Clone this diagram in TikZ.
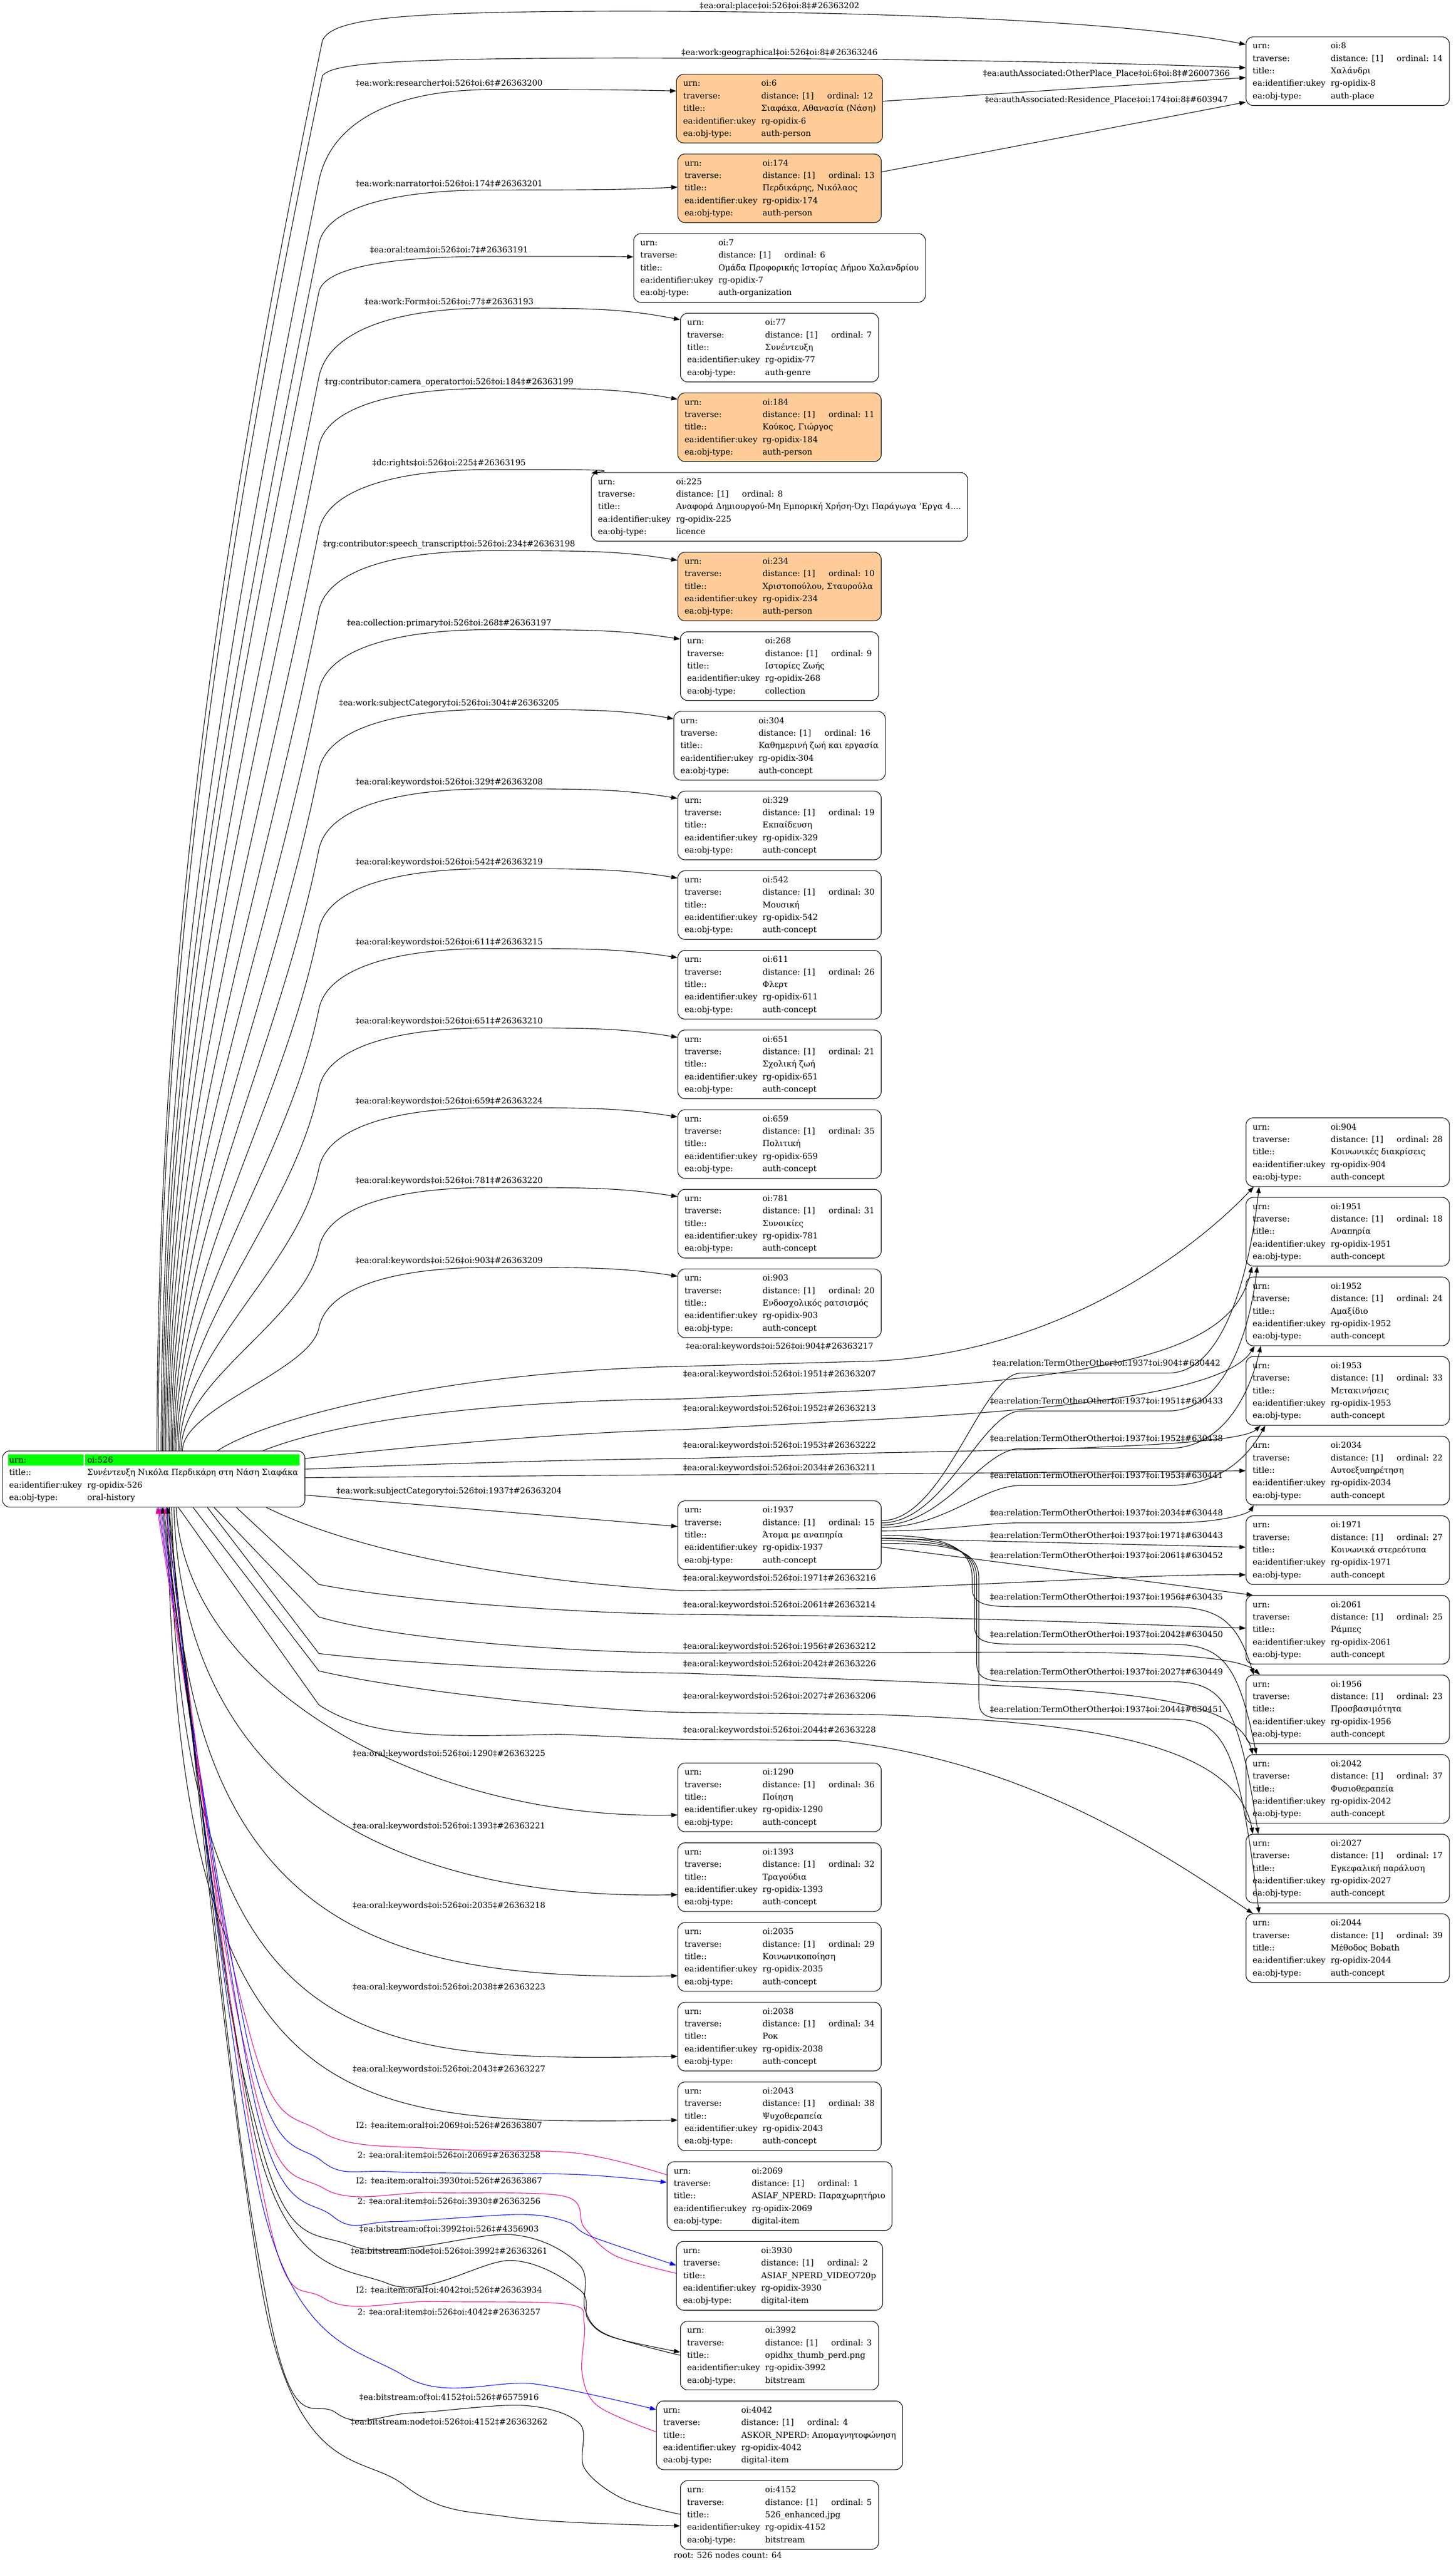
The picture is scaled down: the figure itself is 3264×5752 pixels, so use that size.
\documentclass[tikz,border=0pt]{standalone}
\usepackage{fontspec}
\setmainfont{DejaVu Serif}
\usetikzlibrary{arrows.meta,calc,backgrounds}

\definecolor{peach}{RGB}{255,204,153}

% rows of one record box
\newcommand{\oirows}[4]{%
  \begin{tabular}{@{}p{87.5pt}@{}l@{}}
    urn: & oi:#1\\
    traverse: & \makebox[74pt][l]{distance: [1]}ordinal: #2\hspace{7pt}\\
    title:: & #3\\
    ea:identifier:ukey & rg-opidix-#1\\
    ea:obj-type: & #4
  \end{tabular}}
% text of one edge label
\newcommand{\edgetext}[4]{‡#1‡oi:#2‡oi:#3‡\##4}

\begin{document}
\begin{tikzpicture}[x=0.5pt,y=-0.5pt]
   \tikzstyle{every node}=[font=\fontsize{9.15}{14}\selectfont]
   \tikzstyle{oibox}=[draw, rounded corners=8pt, line width=0.65pt, inner xsep=7.5pt, inner ysep=3.5pt, anchor=north]
   \tikzstyle{elabel}=[inner sep=0pt]
   \tikzstyle{edge}=[-{Triangle[length=7pt,width=5pt]}, line width=0.65pt]
   \tikzstyle{back}=[{Triangle[length=7pt,width=5pt]}-, line width=0.65pt]
   \tikzstyle{blueedge}=[edge, draw=blue]
   \tikzstyle{magback}=[back, draw=magenta]

\useasboundingbox (0,0) rectangle (3264,5752);

% root record
\node[oibox, anchor=north west] (root) at (5,3253) {\begin{tabular}{@{}p{87.5pt}@{}l@{}}
    urn: & oi:526\\
    title:: & Συνέντευξη Νικόλα Περδικάρη στη Νάση Σιαφάκα\\
    ea:identifier:ukey & rg-opidix-526\\
    ea:obj-type: & oral-history
  \end{tabular}};
\begin{scope}[on background layer]
  \fill[green] ($(root.north west)+(13,8)$) rectangle ($(root.north west)+(182,34)$);
  \fill[green] ($(root.north west)+(186,8)$) rectangle ($(root.north east)+(-12,34)$);
\end{scope}

% middle column, upper part
\foreach \nm/\od/\ti/\ty/\fc [count=\ix from 0] in {
    6/12/{Σιαφάκα, Αθανασία (Νάση)}/auth-person/peach,
    174/13/{Περδικάρης, Νικόλαος}/auth-person/peach,
    7/6/Ομάδα Προφορικής Ιστορίας Δήμου Χαλανδρίου/auth-organization/white,
    77/7/Συνέντευξη/auth-genre/white,
    184/11/{Κούκος, Γιώργος}/auth-person/peach,
    225/8/{Αναφορά Δημιουργού-Μη Εμπορική Χρήση-Όχι Παράγωγα 'Εργα 4....}/licence/white,
    234/10/{Χριστοπούλου, Σταυρούλα}/auth-person/peach,
    268/9/Ιστορίες Ζωής/collection/white,
    304/16/Καθημερινή ζωή και εργασία/auth-concept/white,
    329/19/Εκπαίδευση/auth-concept/white,
    542/30/Μουσική/auth-concept/white,
    611/26/Φλερτ/auth-concept/white,
    651/21/Σχολική ζωή/auth-concept/white,
    659/35/Πολιτική/auth-concept/white,
    781/31/Συνοικίες/auth-concept/white,
    903/20/Ενδοσχολικός ρατσισμός/auth-concept/white}
  \node[oibox, fill=\fc] (n\nm) at (1748,166+178.6*\ix) {\oirows{\nm}{\od}{\ti}{\ty}};

\node[oibox] (n1937) at (1748,3365) {\oirows{1937}{15}{Άτομα με αναπηρία}{auth-concept}};

% middle column, lower part
\foreach \nm/\od/\ti/\ty [count=\ix from 0] in {
    1290/36/Ποίηση/auth-concept,
    1393/32/Τραγούδια/auth-concept,
    2035/29/Κοινωνικοποίηση/auth-concept,
    2038/34/Ροκ/auth-concept,
    2043/38/Ψυχοθεραπεία/auth-concept,
    2069/1/{ASIAF\_NPERD: Παραχωρητήριο}/digital-item,
    3930/2/ASIAF\_NPERD\_VIDEO720p/digital-item,
    3992/3/opidhx\_thumb\_perd.png/bitstream,
    4042/4/{ASKOR\_NPERD: Απομαγνητοφώνηση}/digital-item,
    4152/5/526\_enhanced.jpg/bitstream}
  \node[oibox] (n\nm) at (1748,3953+178.8*\ix) {\oirows{\nm}{\od}{\ti}{\ty}};

% right column
\node[oibox] (n8) at (3022,82) {\oirows{8}{14}{Χαλάνδρι}{auth-place}};
\foreach \nm/\od/\ti [count=\ix from 0] in {
    904/28/Κοινωνικές διακρίσεις, 1951/18/Αναπηρία, 1952/24/Αμαξίδιο,
    1953/33/Μετακινήσεις, 2034/22/Αυτοεξυπηρέτηση, 1971/27/Κοινωνικά στερεότυπα,
    2061/25/Ράμπες, 1956/23/Προσβασιμότητα, 2042/37/Φυσιοθεραπεία,
    2027/17/Εγκεφαλική παράλυση, 2044/39/Μέθοδος Bobath}
  \node[oibox] (n\nm) at (3022,2506+178.5*\ix) {\oirows{\nm}{\od}{\ti}{auth-concept}};

\node (foot) at (1632,5730) {root: 526 nodes count: 64};

% root to the upper middle records
\foreach \nm/\ly/\ad/\kn/\pr/\id [count=\ix] in {
    6/187/38/406/ea:work:researcher/26363200,
    174/412/75/547/ea:work:narrator/26363201,
    7/561/53/655/ea:oral:team/26363191,
    77/677/15/846/ea:work:Form/26363193,
    184/857/15/1000/rg:contributor:camera\_operator/26363199,
    225/1039/2/1190/dc:rights/26363195,
    234/1221/19/1370/rg:contributor:speech\_transcript/26363198,
    268/1398/17/1548/ea:collection:primary/26363197,
    304/1577/17/1727/ea:work:subjectCategory/26363205,
    329/1755/17/1905/ea:oral:keywords/26363208,
    542/1934/17/2084/ea:oral:keywords/26363219,
    611/2113/17/2263/ea:oral:keywords/26363215,
    651/2291/17/2441/ea:oral:keywords/26363210,
    659/2470/17/2620/ea:oral:keywords/26363224,
    781/2649/17/2799/ea:oral:keywords/26363220,
    903/2828/17/2978/ea:oral:keywords/26363209}
{
  \pgfmathsetmacro\sx{358+3.2*\ix}
  \pgfmathsetmacro\ka{3253-0.35*(3253-\kn)}
  \pgfmathsetmacro\kb{\kn+0.35*(3253-\kn)}
  \pgfmathsetmacro\kc{715-0.07*(3253-\kn)}
  \pgfmathsetmacro\lv{0.6*(\kn-\ly)}
  \node[elabel] (l\nm) at (1007,\ly) {\edgetext{\pr}{526}{\nm}{\id}};
  \draw[edge] ($(root.north west)+(\sx-5,0)$) .. controls (\sx,\ka) and (\kc,\kb) .. (715,\kn)
    .. controls (715+0.2*\lv,\kn-\lv) and (880,\ly+14) .. (1100,\ly+14)
    .. controls (1320,\ly+14) and (1390,\ly+14) .. ($(n\nm.north west)+(0,\ad)$);
}

% root to oi:8
\node[elabel] (lp8) at (1748,14) {\edgetext{ea:oral:place}{526}{8}{26363202}};
\node[elabel] (lg8) at (1748,119) {\edgetext{ea:work:geographical}{526}{8}{26363246}};
\draw[edge] ($(root.north west)+(347,0)$) .. controls (352,2146) and (494,1198) .. (723,91)
  .. controls (745,40) and (900,26) .. (1400,25) .. controls (2000,25) and (2550,50) .. ($(n8.north west)+(0,18)$);
\draw[edge] ($(root.north west)+(350,0)$) .. controls (355,2174) and (499,1249) .. (723,170)
  .. controls (745,140) and (900,131) .. (1400,130) .. controls (2000,131) and (2500,140) .. ($(n8.north west)+(0,70)$);

% places of the persons
\node[elabel] (lo6) at (2481,166) {\edgetext{ea:authAssociated:OtherPlace\_Place}{6}{8}{26007366}};
\node[elabel] (lr174) at (2481,225) {\edgetext{ea:authAssociated:Residence\_Place}{174}{8}{603947}};
\draw[edge] ($(n6.north east)+(0,61)$) -- ($(n8.north west)+(0,92)$);
\draw[edge] ($(n174.north east)+(0,41)$) -- ($(n8.north west)+(0,147)$);

% root to the right column
\foreach \nm/\ly/\id in {904/3020/26363217, 1951/3082/26363207, 1952/3159/26363213,
    1953/3242/26363222, 2034/3293/26363211, 1971/3540/26363216, 2061/3600/26363214,
    1956/3693/26363212, 2042/3732/26363226, 2027/3805/26363206, 2044/3881/26363228}
  \node[elabel] (k\nm) at (1748,\ly) {\edgetext{ea:oral:keywords}{526}{\nm}{\id}};
\draw[edge] ($(root.north west)+(483,0)$) .. controls (600,3180) and (1000,3075) .. (1530,3064) -- (1966,3052)
  .. controls (2400,3030) and (2700,2780) .. ($(n904.south west)+(18,0)$);
\draw[edge] ($(root.north west)+(585,0)$) .. controls (800,3170) and (1200,3140) .. (1530,3137) -- (1966,3117)
  .. controls (2600,3080) and (2770,3000) .. ($(n1951.south west)+(14,0)$);
\draw[edge] ($(root.east)+(0,-46)$) .. controls (900,3245) and (1300,3210) .. (1530,3206) -- (1966,3183)
  .. controls (2400,3160) and (2750,3120) .. ($(n1952.south west)+(20,0)$);
\draw[edge] ($(root.east)+(0,-22)$) .. controls (900,3285) and (1300,3272) .. (1530,3271) -- (1966,3258)
  .. controls (2400,3250) and (2780,3240) .. ($(n1953.south west)+(33,0)$);
\draw[edge] ($(root.east)+(0,-3)$) -- (1530,3307) -- (1966,3305) -- ($(n2034.north west)+(0,78)$);
\draw[edge] ($(root.south west)+(592,0)$) .. controls (800,3480) and (1150,3545) .. (1530,3567) -- (1966,3562)
  .. controls (2400,3545) and (2600,3530) .. ($(n1971.north west)+(0,133)$);
\draw[edge] ($(root.south west)+(525,0)$) -- (715,3553) .. controls (900,3590) and (1300,3618) .. (1530,3620) -- (1966,3625)
  .. controls (2400,3635) and (2600,3645) .. ($(n2061.north west)+(0,74)$);
\draw[edge] ($(root.south west)+(475,0)$) -- (715,3626) .. controls (900,3680) and (1300,3705) .. (1530,3707) -- (2325,3705)
  .. controls (2600,3705) and (2780,3715) .. ($(n1956.north west)+(32,0)$);
\draw[edge] ($(root.south west)+(460,0)$) -- (715,3708) .. controls (900,3730) and (1300,3750) .. (1530,3752) -- (1966,3768)
  .. controls (2500,3790) and (2770,3800) .. ($(n2042.north west)+(16,0)$);
\draw[edge] ($(root.south west)+(428,0)$) -- (715,3747) .. controls (900,3790) and (1300,3835) .. (1530,3840) -- (1966,3845)
  .. controls (2400,3860) and (2770,3900) .. ($(n2027.north west)+(16,0)$);
\draw[edge] ($(root.south west)+(395,0)$) -- (715,3823) .. controls (830,3900) and (1000,3895) .. (1254,3889)
  .. controls (1400,3895) and (1500,3901) .. (1600,3901) -- (1876,3903)
  .. controls (2300,3950) and (2600,4150) .. ($(n2044.north west)+(16,0)$);

% root to oi:1937
\node[elabel] (l1937) at (1007,3344) {\edgetext{ea:work:subjectCategory}{526}{1937}{26363204}};
\draw[edge] ($(root.east)+(0,36)$) -- ($(n1937.north west)+(0,58)$);

% relations of oi:1937
\foreach \nm/\ly/\id in {904/3057/630442, 1951/3142/630433, 1952/3226/630438, 1953/3309/630441,
    2034/3393/630448, 1971/3443/630443, 2061/3488/630452, 1956/3581/630435, 2042/3665/630450,
    2027/3749/630449, 2044/3833/630451}
  \node[elabel] (r\nm) at (2481,\ly) {\edgetext{ea:relation:TermOtherOther}{1937}{\nm}{\id}};
\foreach \nm/\ly/\sy/\by/\ex in {904/3057/45/2659/30, 1951/3142/50/2838/26,
    1952/3226/55/3016/34, 1953/3309/60/3195/44, 2034/3393/68/3373/18}
  \draw[edge] ($(n1937.north east)+(0,\sy)$) .. controls (2120,3365+\sy) and (2200,\ly+22) .. (2290,\ly+22)
    -- (2620,\ly+22) .. controls (2740,\ly+22) and (2800,\by+0.5*\ly+11-0.5*\by) .. ($(n\nm.south west)+(\ex,0)$);
\draw[edge] ($(n1937.north east)+(0,85)$) -- ($(n1971.north west)+(0,71)$);
\draw[edge] ($(n1937.north east)+(0,104)$) -- ($(n2061.north west)+(16,0)$);
\foreach \nm/\ly/\sy/\vx/\ex in {1956/3581/78/2180/18, 2042/3665/84/2185/24,
    2027/3749/90/2190/28, 2044/3833/96/2195/30}
  \draw[edge] ($(n1937.north east)+(0,\sy)$) .. controls (2120,3365+\sy) and (\vx,3470) .. (\vx,3540)
    -- (\vx,\ly-20) .. controls (\vx,\ly+22) and (2220,\ly+22) .. (2300,\ly+22)
    -- (2620,\ly+22) .. controls (2740,\ly+22) and (2775,\ly+60) .. ($(n\nm.north west)+(\ex,0)$);

% root to the lower middle records
\foreach \nm/\ly/\ad/\ay/\sx/\ka/\kb/\id in {
    1290/3933/117/4070/395/3780/950/26363225,
    1393/4096/117/4249/390/4032/900/26363221,
    2035/4274/120/4431/385/4326/850/26363218,
    2038/4457/122/4612/380/4612/800/26363223,
    2043/4641/86/4754/375/4754/750/26363227}
{
  \node[elabel] (l\nm) at (1007,\ly) {\edgetext{ea:oral:keywords}{526}{\nm}{\id}};
  \draw[edge] ($(root.south west)+(\sx-5,0)$) .. controls (\sx+20,\ka) and (\kb,\ay+12) .. ($(n\nm.north west)+(0,\ad)$);
}

% digital items and bitstreams
\node[elabel] (li2069) at (1007,4766) {I2: \edgetext{ea:item:oral}{2069}{526}{26363807}};
\node[elabel] (lo2069) at (1007,4833) {2: \edgetext{ea:oral:item}{526}{2069}{26363258}};
\node[elabel] (li3930) at (1007,4891) {I2: \edgetext{ea:item:oral}{3930}{526}{26363867}};
\node[elabel] (lo3930) at (1007,4937) {2: \edgetext{ea:oral:item}{526}{3930}{26363256}};
\node[elabel] (lb3992) at (1007,4999) {\edgetext{ea:bitstream:of}{3992}{526}{4356903}};
\node[elabel] (ln3992) at (1007,5048) {\edgetext{ea:bitstream:node}{526}{3992}{26363261}};
\node[elabel] (li4042) at (1007,5136) {I2: \edgetext{ea:item:oral}{4042}{526}{26363934}};
\node[elabel] (lo4042) at (1007,5185) {2: \edgetext{ea:oral:item}{526}{4042}{26363257}};
\node[elabel] (lb4152) at (1007,5376) {\edgetext{ea:bitstream:of}{4152}{526}{6575916}};
\node[elabel] (ln4152) at (1007,5431) {\edgetext{ea:bitstream:node}{526}{4152}{26363262}};

\draw[magback] plot[smooth,tension=0.55] coordinates {($(root.south west)+(347,0)$) (560,4560) (720,4780) (968,4818) (1290,4828) ($(n2069.north west)+(0,30)$)};
\draw[blueedge] plot[smooth,tension=0.55] coordinates {($(root.south west)+(350,0)$) (565,4620) (720,4845) (879,4870) (1289,4876) ($(n2069.north west)+(0,47)$)};
\draw[magback] plot[smooth,tension=0.55] coordinates {($(root.south west)+(353,0)$) (570,4680) (727,4908) (968,4917) (1265,4925) (1310,4995) (1379,5058) ($(n3930.north west)+(0,72)$)};
\draw[blueedge] plot[smooth,tension=0.55] coordinates {($(root.south west)+(356,0)$) (575,4730) (745,4969) (879,4982) (1164,4966) (1271,4982) (1325,5015) ($(n3930.north west)+(0,54)$)};
\draw[back] plot[smooth,tension=0.55] coordinates {($(root.south west)+(359,0)$) (580,4790) (789,5036) (1146,5011) (1300,5080) (1312,5180) (1360,5235) ($(n3992.north west)+(0,77)$)};
\draw[edge] plot[smooth,tension=0.55] coordinates {($(root.south west)+(362,0)$) (585,4840) (870,5121) (1146,5069) (1300,5135) (1318,5200) (1370,5240) ($(n3992.north west)+(0,70)$)};
\draw[magback] plot[smooth,tension=0.55] coordinates {($(root.south west)+(365,0)$) (590,4920) (727,5154) (968,5161) (1271,5167) (1310,5210) (1305,5320) (1340,5395) ($(n4042.north west)+(0,70)$)};
\draw[blueedge] plot[smooth,tension=0.55] coordinates {($(root.south west)+(368,0)$) (595,4970) (905,5327) (1200,5346) ($(n4042.north west)+(0,20)$)};
\draw[back] plot[smooth,tension=0.55] coordinates {($(root.south west)+(371,0)$) (600,5170) (754,5411) (923,5411) (1173,5394) (1300,5435) (1310,5534) (1396,5603) ($(n4152.north west)+(0,76)$)};
\draw[edge] plot[smooth,tension=0.55] coordinates {($(root.south west)+(374,0)$) (605,5220) (905,5572) (1146,5645) ($(n4152.north west)+(0,102)$)};

\end{tikzpicture}
\end{document}
